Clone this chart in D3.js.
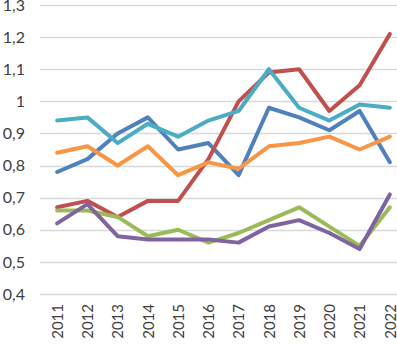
<!DOCTYPE html>
<html><head><meta charset="utf-8">
<script src="https://cdn.jsdelivr.net/npm/d3@7"></script>
<style>body{margin:0;background:#fff}svg{display:block}</style>
</head><body>
<svg id="c" width="397" height="344"></svg>
<script>
const years = ["2011","2012","2013","2014","2015","2016","2017","2018","2019","2020","2021","2022"];
const yTicks = [0.4,0.5,0.6,0.7,0.8,0.9,1.0,1.1,1.2,1.3];
const blue   = [0.78,0.82,0.90,0.95,0.85,0.87,0.77,0.98,0.95,0.91,0.97,0.81];
const red    = [0.67,0.69,0.64,0.69,0.69,0.82,1.00,1.09,1.10,0.97,1.05,1.21];
const green  = [0.66,0.66,0.64,0.58,0.60,0.56,0.59,0.63,0.67,0.61,0.55,0.67];
const purple = [0.62,0.68,0.58,0.57,0.57,0.57,0.56,0.61,0.63,0.59,0.54,0.71];
const cyan   = [0.94,0.95,0.87,0.93,0.89,0.94,0.97,1.10,0.98,0.94,0.99,0.98];
const orange = [0.84,0.86,0.80,0.86,0.77,0.81,0.79,0.86,0.87,0.89,0.85,0.89];
const series = [
  {v: blue, c: "#4F81BD"},
  {v: red, c: "#C0504D"},
  {v: green, c: "#9BBB59"},
  {v: purple, c: "#8064A2"},
  {v: cyan, c: "#4BACC6"},
  {v: orange, c: "#F79646"}
];
const svg = d3.select("#c");
const x = d3.scalePoint().domain(years).range([42, 405]).padding(0.5);
const y = d3.scaleLinear().domain([0.4, 1.3]).range([294, 5]);
const fmt = d => d3.format(".1f")(d).replace(/\.0$/, "").replace(".", ",");
// grid
svg.append("g").selectAll("line").data(yTicks).join("line")
  .attr("x1", 40).attr("x2", 397)
  .attr("y1", d => Math.round(y(d)) + 0.5).attr("y2", d => Math.round(y(d)) + 0.5)
  .attr("stroke", "#d9d9d9").attr("stroke-width", 1.3);
// y labels
const ya = svg.append("g").attr("transform", "translate(25,0)")
  .call(d3.axisLeft(y).tickValues(yTicks).tickFormat(fmt).tickSize(0).tickPadding(0));
ya.select(".domain").remove();
ya.selectAll("text").attr("font-family", "Lato, 'Open Sans', sans-serif").attr("font-size", 16).attr("fill", "#404040");
// x labels
const xa = svg.append("g").attr("transform", "translate(0,304)")
  .call(d3.axisBottom(x).tickSize(0).tickPadding(0));
xa.select(".domain").remove();
xa.selectAll("text")
  .attr("font-family", "Lato, 'Open Sans', sans-serif").attr("font-size", 15).attr("fill", "#404040")
  .attr("transform", "rotate(-90)").attr("text-anchor", "end").attr("dy", "0.35em").attr("x", 0).attr("y", 0);
// lines
const line = d3.line().x((d, i) => x(years[i])).y(d => y(d));
svg.append("g").selectAll("path").data(series).join("path")
  .attr("d", s => line(s.v)).attr("fill", "none")
  .attr("stroke", s => s.c).attr("stroke-width", 4)
  .attr("stroke-linejoin", "round").attr("stroke-linecap", "round");
</script>
</body></html>
